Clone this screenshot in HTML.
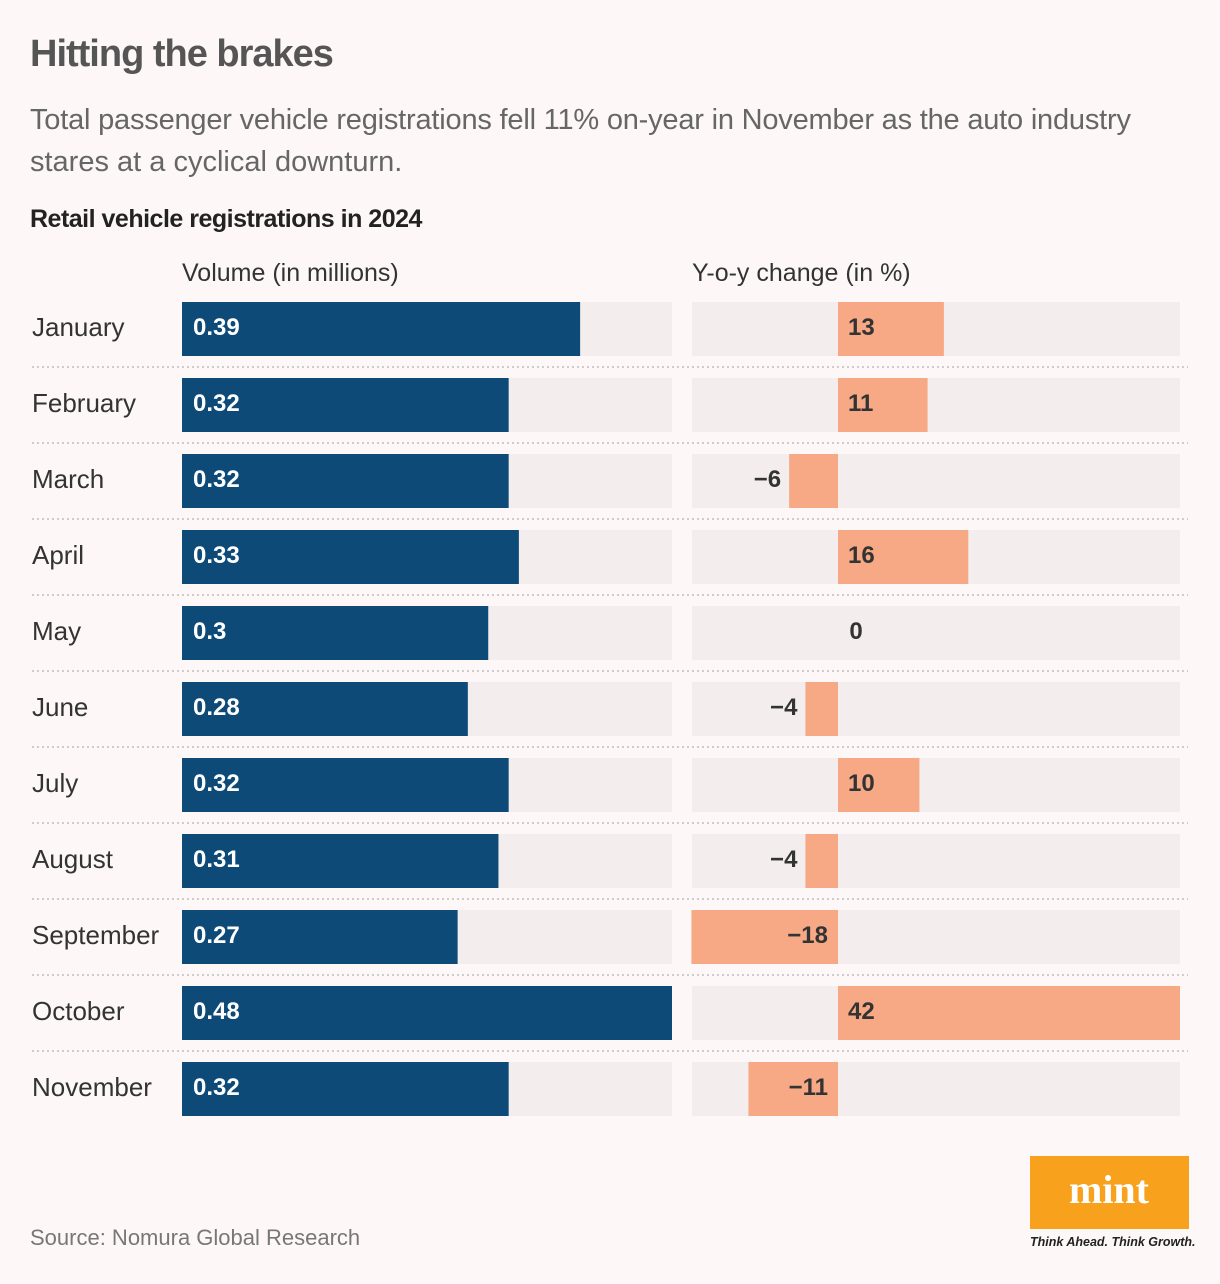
<!DOCTYPE html>
<html><head><meta charset="utf-8"><style>
body{margin:0;background:#fdf8f7;width:1220px;height:1284px;overflow:hidden;font-family:"Liberation Sans",sans-serif;}
svg{display:block}
</style></head><body>
<svg id="c" width="1220" height="1284">
<rect width="1220" height="1284" fill="#fdf8f7"/>
<text x="30" y="66" font-size="38" font-weight="bold" fill="#555" letter-spacing="-1">Hitting the brakes</text>
<text x="30" y="129" font-size="29" fill="#666" letter-spacing="-0.2">Total passenger vehicle registrations fell 11% on-year in November as the auto industry</text>
<text x="30" y="171" font-size="29" fill="#666">stares at a cyclical downturn.</text>
<text x="30" y="227" font-size="25" font-weight="bold" fill="#222" letter-spacing="-0.5">Retail vehicle registrations in 2024</text>
<text x="182" y="281" font-size="25" fill="#333">Volume (in millions)</text>
<text x="692" y="281" font-size="25" fill="#333">Y-o-y change (in %)</text>
<g id="rows"></g>
<text x="30" y="1245" font-size="22" fill="#777">Source: Nomura Global Research</text>
<rect x="1030" y="1156" width="159" height="73" fill="#f7a11d"/>
<text x="1109" y="1203" font-size="40" font-weight="bold" font-family="Liberation Serif,serif" fill="#fff" text-anchor="middle">mint</text>
<text x="1030" y="1246" font-size="12.5" font-style="italic" font-weight="bold" fill="#222">Think Ahead. Think Growth.</text>
</svg>
<script>
const months=["January","February","March","April","May","June","July","August","September","October","November"];
const volume=[0.39,0.32,0.32,0.33,0.3,0.28,0.32,0.31,0.27,0.48,0.32];
const volumeLabels=["0.39","0.32","0.32","0.33","0.3","0.28","0.32","0.31","0.27","0.48","0.32"];
const yoy=[13,11,-6,16,0,-4,10,-4,-18,42,-11];
const yoyLabels=["13","11","\u22126","16","0","\u22124","10","\u22124","\u221218","42","\u221211"];
const NS="http://www.w3.org/2000/svg";
const g=document.getElementById('rows');
const xVol=v=>182+v/0.48*490;
const xYoy=v=>838+v*(342/42);
function mk(tag,attrs){const e=document.createElementNS(NS,tag);for(const k in attrs)e.setAttribute(k,attrs[k]);g.appendChild(e);return e;}
months.forEach((m,i)=>{
  const top=302+i*76;
  let t=mk('text',{x:32,y:top+34,'font-size':26,fill:'#333'});t.textContent=m;
  
  
  let bg=mk('rect',{x:182,y:top,width:490,height:54,fill:'#f3eeed'});
  
  
  let b=mk('rect',{x:182,y:top,width:xVol(volume[i])-182,height:54,fill:'#0d4a78'});
  
  
  let vl=mk('text',{x:193,y:top+33,'font-size':24,'font-weight':'bold',fill:'#fff'});vl.textContent=volumeLabels[i];
  
  
  let bg2=mk('rect',{x:692,y:top,width:488,height:54,fill:'#f3eeed'});
  
  
  const x0=xYoy(Math.min(0,yoy[i])),x1=xYoy(Math.max(0,yoy[i]));
  let yb=mk('rect',{x:x0,y:top,width:x1-x0,height:54,fill:'#f6a984'});
  
  
  const neg=yoy[i]<0;
  const inside=neg&&(x1-x0)>70;
  let yl=mk('text',{x:neg?(inside?x1-10:x0-8):848,y:top+33,'font-size':24,'font-weight':'bold',fill:'#333','text-anchor':neg?'end':'start'});
  if(yoy[i]===0){yl.setAttribute('text-anchor','middle');yl.setAttribute('x',856);}
  yl.textContent=yoyLabels[i];
  
  
  if(i<months.length-1){
    let l=mk('line',{x1:32,x2:1188,y1:top+65,y2:top+65,stroke:'#ccc','stroke-width':2,'stroke-dasharray':'2 3'});
    
    
  }
});
</script>
</body></html>
